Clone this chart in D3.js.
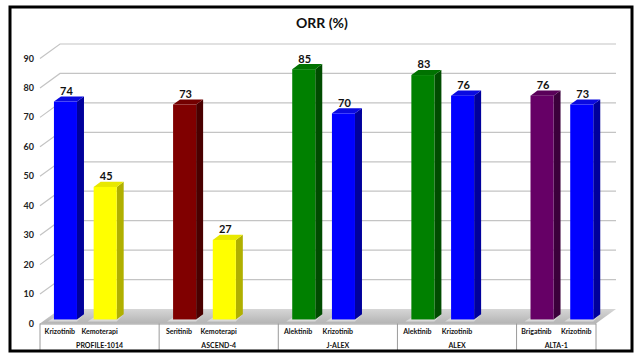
<!DOCTYPE html>
<html>
<head>
<meta charset="utf-8">
<script src="https://cdn.jsdelivr.net/npm/d3@7"></script>
<style>
  body { margin: 0; background: #fff; }
  svg { display: block; font-family: Lato, "Open Sans", sans-serif; }
</style>
</head>
<body>
<svg id="chart"></svg>
<script>
const title = "ORR (%)"
const groups = ["PROFILE-1014", "ASCEND-4", "J-ALEX", "ALEX", "ALTA-1"]
const groupDrugs = [
  ["Krizotinib", "Kemoterapi"],
  ["Seritinib", "Kemoterapi"],
  ["Alektinib", "Krizotinib"],
  ["Alektinib", "Krizotinib"],
  ["Brigatinib", "Krizotinib"]
]
const orr = [[74, 45], [73, 27], [85, 70], [83, 76], [76, 73]]
const yTicks = [0, 10, 20, 30, 40, 50, 60, 70, 80, 90]

// front, top, side colours for each drug
const drugColor = {
  Krizotinib: ["#0000ff", "#0a0ae0", "#00009c"],
  Kemoterapi: ["#ffff00", "#e8e800", "#b0b000"],
  Seritinib: ["#800000", "#730000", "#4a0000"],
  Alektinib: ["#008000", "#007200", "#004c00"],
  Brigatinib: ["#660066", "#5a005a", "#3b003b"]
}

const W = 638, H = 354
const depth = { x: 20, y: -14.5 }
const f1 = 0.28, f2 = 0.63

// slots: every group but the last gets an empty third slot
let slots = []
groups.forEach((g, gi) => {
  groupDrugs[gi].forEach((d, i) => slots.push({ key: gi + "-" + i, group: gi, drug: d, value: orr[gi][i] }))
  if (gi < groups.length - 1) slots.push({ key: gi + "-x", group: gi, drug: "", value: null })
})

const svg = d3.select("#chart").attr("width", W).attr("height", H)

const x = d3.scaleBand().domain(slots.map(s => s.key)).range([40, 596]).padding(0)
const y = d3.scaleLinear().domain([0, 90]).range([323.5, 58.5])

// floor
const y0 = y(0)
const grad = svg.append("defs").append("linearGradient")
  .attr("id", "floor").attr("x1", 0).attr("y1", 0).attr("x2", 0).attr("y2", 1)
grad.append("stop").attr("offset", "0%").attr("stop-color", "#d6d6d6")
grad.append("stop").attr("offset", "100%").attr("stop-color", "#b4b4b4")
svg.append("polygon")
  .attr("points", [[40, y0], [596, y0], [596 + depth.x, y0 + depth.y], [40 + depth.x, y0 + depth.y]].join(" "))
  .attr("fill", "url(#floor)")

// gridlines: diagonal on left wall + horizontal on back wall
yTicks.filter(v => v > 0).forEach(v => {
  let yy = y(v)
  svg.append("polyline")
    .attr("points", [[40, yy], [40 + depth.x, yy + depth.y], [596 + depth.x, yy + depth.y]].join(" "))
    .attr("fill", "none")
    .attr("stroke", "#c4c4c4")
    .attr("stroke-width", 1.2)
})

// y tick labels
svg.append("g").selectAll("text").data(yTicks).join("text")
  .attr("x", 34).attr("y", d => y(d) + 3)
  .attr("text-anchor", "end")
  .attr("font-size", 9).attr("font-weight", "bold").attr("fill", "#222")
  .text(d => d)

// bars
const bw = x.bandwidth() * 0.58
const bars = slots.filter(s => s.value !== null)
const barG = svg.append("g")
bars.forEach(s => {
  let c = drugColor[s.drug]
  let x0 = x(s.key) + (x.bandwidth() - bw) / 2 + f1 * depth.x
  let yt = y(s.value) + f1 * depth.y
  let yb = y(0) + f1 * depth.y
  let ddx = (f2 - f1) * depth.x, ddy = (f2 - f1) * depth.y
  // soft shadow on the floor
  barG.append("polygon")
    .attr("points", [[x0 - 6, yb + 2], [x0 + bw, yb + 2], [x0 + bw + ddx, yb + ddy], [x0 - 2 + ddx, yb + ddy]].join(" "))
    .attr("fill", "#e6e6e6").attr("opacity", 0.7)
  barG.append("polygon")
    .attr("points", [[x0 + bw, yt], [x0 + bw + ddx, yt + ddy], [x0 + bw + ddx, yb + ddy], [x0 + bw, yb]].join(" "))
    .attr("fill", c[2])
  barG.append("polygon")
    .attr("points", [[x0, yt], [x0 + bw, yt], [x0 + bw + ddx, yt + ddy], [x0 + ddx, yt + ddy]].join(" "))
    .attr("fill", c[1])
  barG.append("rect")
    .attr("x", x0).attr("y", yt).attr("width", bw).attr("height", yb - yt)
    .attr("fill", c[0])
  barG.append("text")
    .attr("x", x0 + bw / 2 + 1).attr("y", yt + ddy - 1.5)
    .attr("text-anchor", "middle")
    .attr("font-size", 11).attr("font-weight", "bold").attr("fill", "#111")
    .text(s.value)
})

// category table below the floor
const axisG = svg.append("g").attr("stroke", "#9a9a9a").attr("stroke-width", 1)
axisG.append("line").attr("x1", 40).attr("x2", 596).attr("y1", y0 + 0.5).attr("y2", y0 + 0.5)
let bounds = groups.map((g, gi) => x(slots.find(s => s.group === gi).key))
bounds.push(596)
bounds.forEach(b => {
  axisG.append("line").attr("x1", b).attr("x2", b).attr("y1", y0).attr("y2", 351)
})

svg.append("g").selectAll("text").data(slots.filter(s => s.drug)).join("text")
  .attr("x", s => x(s.key) + x.bandwidth() / 2)
  .attr("y", 333.5)
  .attr("text-anchor", "middle")
  .attr("font-size", 7).attr("font-weight", "bold").attr("fill", "#111")
  .text(s => s.drug)

svg.append("g").selectAll("text").data(groups).join("text")
  .attr("x", (g, i) => (bounds[i] + bounds[i + 1]) / 2)
  .attr("y", 347.5)
  .attr("text-anchor", "middle")
  .attr("font-size", 7).attr("font-weight", "bold").attr("fill", "#111")
  .text(g => g)

// title
svg.append("text")
  .attr("x", 322).attr("y", 28)
  .attr("text-anchor", "middle")
  .attr("font-size", 14).attr("font-weight", "bold").attr("fill", "#111")
  .text(title)

// outer frame
svg.append("rect")
  .attr("x", 10).attr("y", 7).attr("width", 622).attr("height", 344)
  .attr("fill", "none").attr("stroke", "#000").attr("stroke-width", 3)
</script>
</body>
</html>
